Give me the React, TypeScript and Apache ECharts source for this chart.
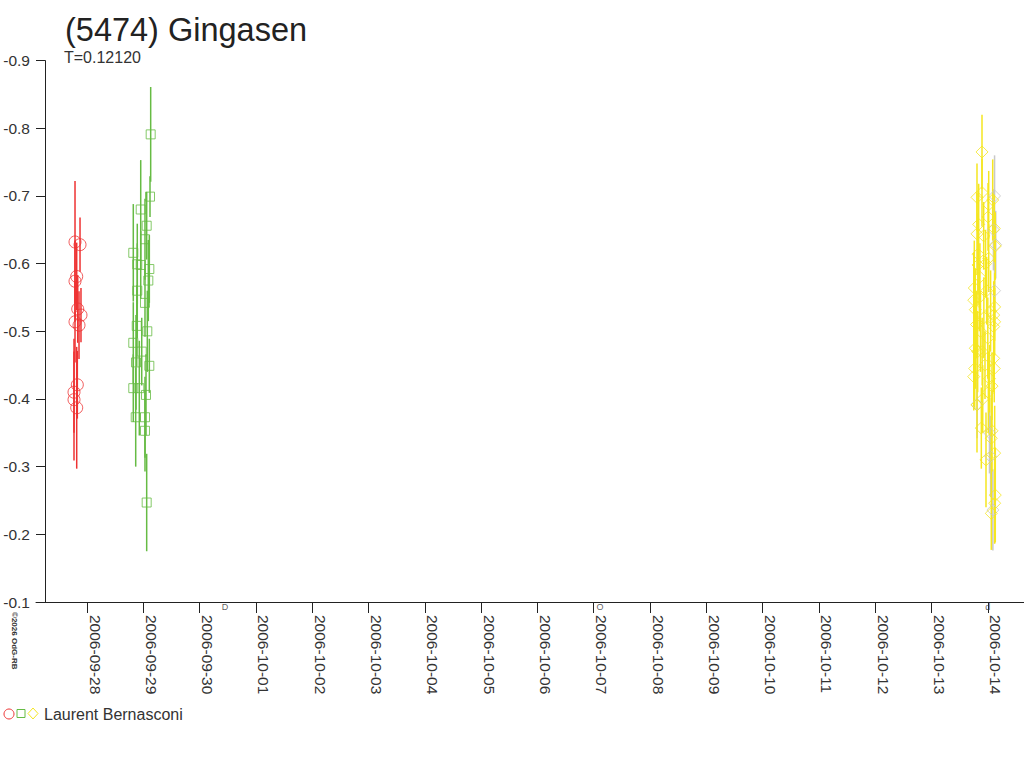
import React, { useEffect, useRef } from "react";
import * as echarts from "echarts";

// x: days since 2006-09-28 00:00 UT, y: magnitude, e: error
const dateLabels = [
  "2006-09-28", "2006-09-29", "2006-09-30", "2006-10-01", "2006-10-02", "2006-10-03",
  "2006-10-04", "2006-10-05", "2006-10-06", "2006-10-07", "2006-10-08", "2006-10-09",
  "2006-10-10", "2006-10-11", "2006-10-12", "2006-10-13", "2006-10-14",
];
const yTicks = [-0.9, -0.8, -0.7, -0.6, -0.5, -0.4, -0.3, -0.2, -0.1];

const redSeries: number[][] = [
  [-0.213, -0.632, 0.09], [-0.124, -0.628, 0.04], [-0.183, -0.581, 0.05], [-0.213, -0.574, 0.06],
  [-0.165, -0.533, 0.05], [-0.107, -0.524, 0.04], [-0.213, -0.514, 0.06], [-0.142, -0.509, 0.05],
  [-0.172, -0.421, 0.05], [-0.231, -0.41, 0.06], [-0.231, -0.399, 0.09], [-0.183, -0.387, 0.09],
];

const greenSeries: number[][] = [
  [1.131, -0.791, 0.07], [1.119, -0.699, 0.03], [0.954, -0.68, 0.073], [1.06, -0.656, 0.05],
  [1.03, -0.636, 0.06], [0.822, -0.616, 0.072], [0.893, -0.599, 0.06], [0.954, -0.598, 0.05],
  [1.107, -0.592, 0.05], [1.089, -0.575, 0.06], [0.893, -0.56, 0.07], [1.03, -0.542, 0.05],
  [1.071, -0.5, 0.06], [0.883, -0.508, 0.06], [0.822, -0.483, 0.06], [0.87, -0.454, 0.07],
  [1.107, -0.449, 0.04], [0.972, -0.47, 0.05], [0.822, -0.416, 0.05], [0.929, -0.416, 0.07],
  [1.048, -0.406, 0.06], [0.865, -0.373, 0.073], [1.03, -0.373, 0.06], [1.03, -0.353, 0.06],
  [1.06, -0.247, 0.072],
];

const yellowSeries: number[][] = [
  [15.897, -0.765, 0.055], [15.808, -0.698, 0.05], [15.897, -0.705, 0.05], [16.087, -0.694, 0.06],
  [16.016, -0.687, 0.05], [16.004, -0.669, 0.05], [15.838, -0.658, 0.06], [16.115, -0.652, 0.05],
  [15.808, -0.644, 0.06], [15.927, -0.641, 0.05], [16.133, -0.626, 0.05], [15.826, -0.614, 0.06],
  [16.016, -0.608, 0.05], [15.826, -0.598, 0.06], [15.76, -0.564, 0.07], [15.75, -0.546, 0.07],
  [16.122, -0.536, 0.05], [15.778, -0.532, 0.06], [16.105, -0.524, 0.05], [16.122, -0.514, 0.05],
  [16.105, -0.507, 0.05], [15.778, -0.475, 0.06], [16.105, -0.46, 0.05], [15.767, -0.445, 0.06],
  [16.115, -0.445, 0.05], [15.75, -0.433, 0.05], [16.075, -0.419, 0.05], [15.808, -0.391, 0.07],
  [15.885, -0.357, 0.06], [16.075, -0.353, 0.06], [16.062, -0.342, 0.06], [16.122, -0.32, 0.07],
  [15.968, -0.31, 0.07], [16.133, -0.258, 0.07], [16.122, -0.246, 0.06], [16.062, -0.231, 0.054],
  [15.85, -0.55, 0.05], [15.87, -0.5, 0.06], [15.9, -0.47, 0.05], [15.93, -0.52, 0.06],
  [15.95, -0.45, 0.05], [15.98, -0.56, 0.05], [16.0, -0.49, 0.06], [16.03, -0.43, 0.05],
  [15.82, -0.47, 0.06], [15.86, -0.58, 0.05], [15.91, -0.4, 0.05], [16.05, -0.53, 0.06],
  [15.8, -0.51, 0.05], [15.96, -0.6, 0.05], [16.01, -0.41, 0.06],
];

const graySeries: number[][] = [
  [16.12, -0.7, 0.06], [16.1, -0.65, 0.06], [16.14, -0.628, 0.05], [16.12, -0.56, 0.05],
  [15.81, -0.392, 0.05], [16.05, -0.315, 0.06], [16.09, -0.236, 0.06], [16.03, -0.35, 0.06],
];

// moon-phase glyphs under the axis: [day, glyph]
const moonDays = [2.45, 9.11, 16.0];
const moonGlyphs = ["D", "O", "d"];

const observer = "Laurent Bernasconi";
const titleText = "(5474) Gingasen";
const periodText = "T=0.12120";
const copyrightText = "©2026 OdG-RB";

const FONT = "'Liberation Sans', Arial, sans-serif";
const RED = "#ee3333";
const GREEN = "#66bb44";
const YELLOW = "#f5e620";
const GRAY = "#c8c8c8";

function errorSeries(data: number[][], color: string) {
  return {
    type: "custom",
    data,
    encode: { x: 0, y: 1 },
    clip: false,
    renderItem: (params: any, api: any) => {
      const x = api.value(0);
      const y = api.value(1);
      const e = api.value(2);
      const p1 = api.coord([x, y - e]);
      const p2 = api.coord([x, y + e]);
      return {
        type: "line",
        shape: { x1: p1[0], y1: p1[1], x2: p2[0], y2: p2[1] },
        style: { stroke: color, lineWidth: 1.5 },
      };
    },
    z: 2,
  };
}

function symbolSeries(data: number[][], color: string, symbol: string, size: number) {
  return {
    type: "scatter",
    data: data.map((d) => [d[0], d[1]]),
    symbol,
    symbolSize: size,
    clip: false,
    itemStyle: { color: "rgba(0,0,0,0)", borderColor: color, borderWidth: 1 },
    z: 3,
  };
}

export default function App() {
  const ref = useRef<HTMLDivElement>(null);
  useEffect(() => {
    if (!ref.current) return;
    const chart = echarts.init(ref.current, null, { renderer: "svg" });
    const option: any = {
      animation: false,
      backgroundColor: "#ffffff",
      textStyle: { fontFamily: FONT },
      title: [
        {
          text: titleText,
          left: 60,
          top: 8,
          textStyle: { fontFamily: FONT, fontSize: 32.5, fontWeight: "normal", color: "#222" },
        },
        {
          text: periodText,
          left: 59,
          top: 44,
          textStyle: { fontFamily: FONT, fontSize: 16, fontWeight: "normal", color: "#333" },
        },
      ],
      grid: { left: 36, right: 0, top: 60.6, bottom: 166 },
      xAxis: {
        type: "value",
        min: -0.906,
        max: 16.643,
        splitLine: { show: false },
        axisLine: { show: true, onZero: false, lineStyle: { color: "#222", width: 1 } },
        axisTick: {
          show: true,
          length: 11,
          lineStyle: { color: "#222" },
          customValues: dateLabels.map((_, i) => i),
        },
        axisLabel: {
          customValues: dateLabels.map((_, i) => i),
          formatter: (v: number) => dateLabels[Math.round(v)] ?? "",
          rotate: -90,
          align: "left",
          verticalAlign: "bottom",
          margin: 13,
          fontSize: 15.5,
          fontFamily: FONT,
          color: "#333",
        },
      },
      yAxis: {
        type: "value",
        inverse: true,
        min: yTicks[0],
        max: yTicks[yTicks.length - 1],
        interval: 0.1,
        offset: -9,
        splitLine: { show: false },
        axisLine: { show: true, onZero: false, lineStyle: { color: "#222", width: 1 } },
        axisTick: { show: true, length: 9, lineStyle: { color: "#222" } },
        axisLabel: {
          formatter: (v: number) => v.toFixed(1),
          margin: 15,
          fontSize: 15.5,
          fontFamily: FONT,
          color: "#333",
        },
      },
      series: [
        errorSeries(graySeries, GRAY),
        symbolSeries(graySeries, GRAY, "diamond", 12),
        errorSeries(redSeries, RED),
        symbolSeries(redSeries, RED, "circle", 12),
        errorSeries(greenSeries, GREEN),
        symbolSeries(greenSeries, GREEN, "rect", 9),
        errorSeries(yellowSeries, YELLOW),
        symbolSeries(yellowSeries, YELLOW, "diamond", 12),
        {
          type: "scatter",
          data: moonDays.map((d) => [d, -0.092]),
          symbolSize: 0,
          clip: false,
          label: {
            show: true,
            position: "inside",
            formatter: (p: any) => moonGlyphs[p.dataIndex],
            fontSize: 9,
            fontFamily: FONT,
            color: "#333",
          },
          z: 4,
        },
      ],
      graphic: [
        { type: "circle", shape: { cx: 9, cy: 714, r: 5 }, style: { fill: "none", stroke: RED, lineWidth: 1 } },
        { type: "rect", shape: { x: 17, y: 709.5, width: 8, height: 8 }, style: { fill: "none", stroke: GREEN, lineWidth: 1 } },
        { type: "polygon", shape: { points: [[33, 708], [38, 713.5], [33, 719], [28, 713.5]] }, style: { fill: "none", stroke: YELLOW, lineWidth: 1 } },
        {
          type: "text",
          x: 44,
          y: 714,
          style: { text: observer, fontSize: 16, fontFamily: FONT, fill: "#333", verticalAlign: "middle", align: "left" },
        },
        {
          type: "text",
          x: 10,
          y: 612,
          rotation: -Math.PI / 2,
          style: { text: copyrightText, fontSize: 8, fontWeight: "bold", fontFamily: FONT, fill: "#333", align: "left", verticalAlign: "bottom" },
        },
      ],
    };
    chart.setOption(option);
    return () => chart.dispose();
  }, []);
  return (
    <div
      ref={ref}
      style={{ position: "fixed", left: 0, top: 0, width: 1024, height: 768, background: "#fff" }}
    />
  );
}
